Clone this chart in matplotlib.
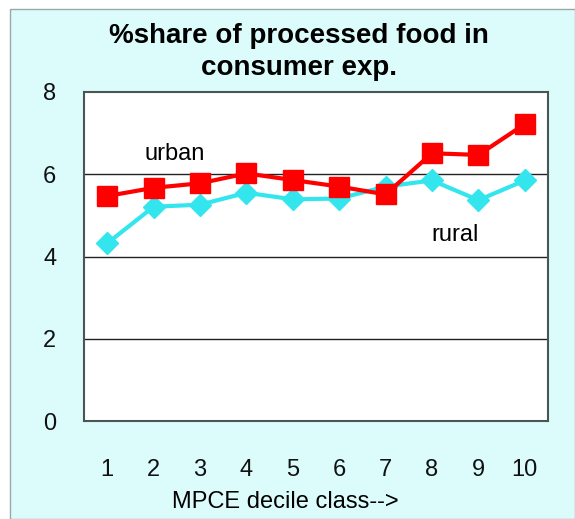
import matplotlib.pyplot as plt
from matplotlib.patches import Rectangle

deciles = [1, 2, 3, 4, 5, 6, 7, 8, 9, 10]
urban = [5.47, 5.67, 5.78, 6.02, 5.86, 5.70, 5.51, 6.51, 6.47, 7.22]
rural = [4.32, 5.21, 5.26, 5.55, 5.39, 5.41, 5.70, 5.85, 5.37, 5.85]
y_ticks = [0, 2, 4, 6, 8]

plt.rcParams["font.family"] = ["Liberation Sans", "DejaVu Sans"]

fig = plt.figure(figsize=(5.75, 5.19), dpi=100)
fig.patch.set_facecolor("white")
# light cyan panel behind the chart
fig.patches.append(Rectangle((10 / 575, 0), 1 - 10 / 575, 1 - 9 / 519,
                             transform=fig.transFigure, facecolor="#dcfcfc",
                             edgecolor="#9aa8a8", linewidth=1.0, zorder=-1))

ax = fig.add_axes([84 / 575, 1 - 421 / 519, (548 - 84) / 575, (421 - 92) / 519])
ax.set_facecolor("white")

for y in [2, 4, 6]:
    ax.axhline(y, color="#222222", linewidth=1.0, zorder=1)

ax.plot(deciles, rural, color="#33e6ee", linewidth=3, marker="D",
        markersize=11, zorder=3)
ax.plot(deciles, urban, color="#ff0000", linewidth=3, marker="s",
        markersize=14, zorder=4)

ax.set_xlim(0.5, 10.5)
ax.set_ylim(0, 8)
ax.set_yticks(y_ticks)
ax.set_xticks(deciles)
ax.tick_params(axis="both", length=0, labelsize=17, colors="#111111")
ax.tick_params(axis="y", pad=20)
ax.tick_params(axis="x", pad=27)
for s in ax.spines.values():
    s.set_color("#4a5656")
    s.set_linewidth(1.5)

ax.text(2.45, 6.5, "urban", fontsize=17, ha="center", va="center")
ax.text(8.5, 4.52, "rural", fontsize=17, ha="center", va="center")

fig.text(285 / 575, 1 - 502 / 519, "MPCE decile class-->", fontsize=17,
         ha="center", va="center")
fig.text(0.52, 1 - 52 / 519, "%share of processed food in\nconsumer exp.",
         ha="center", va="center", fontsize=20, fontweight="bold",
         linespacing=1.3)

fig.savefig("out.png", dpi=100, facecolor=fig.get_facecolor())
